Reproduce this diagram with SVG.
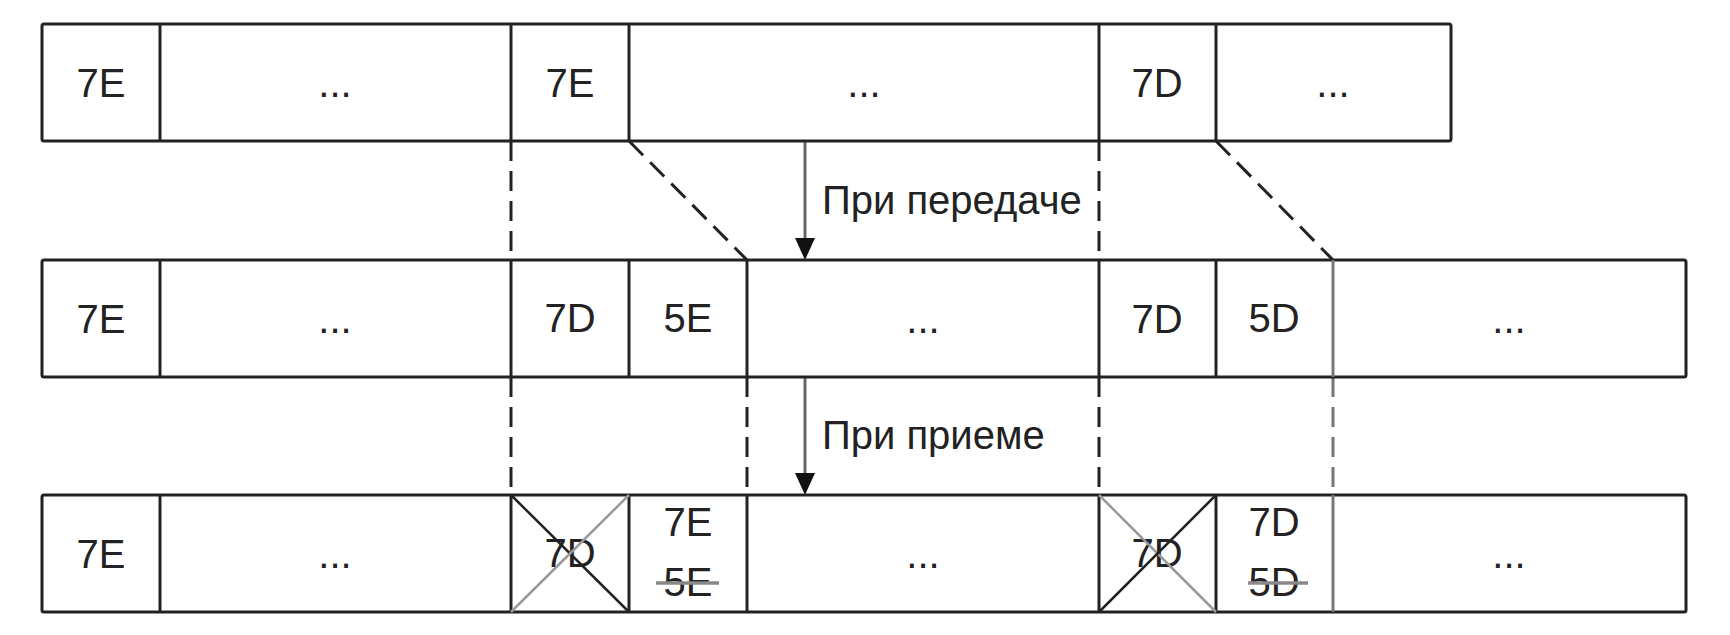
<svg xmlns="http://www.w3.org/2000/svg" width="1730" height="635" viewBox="0 0 1730 635">
<style>
.box{fill:#fff;stroke:#222;stroke-width:3}
.div{stroke:#222;stroke-width:3}
.gdiv{stroke:#777;stroke-width:3}
.t{font-family:"Liberation Sans",Arial,sans-serif;font-size:40px;fill:#222;text-anchor:middle}
.lbl{font-family:"Liberation Sans",Arial,sans-serif;font-size:40px;fill:#222}
.dash{stroke:#222;stroke-width:3;stroke-dasharray:20 10;fill:none}
.arr{stroke:#666;stroke-width:3;fill:none}
.xb{stroke:#222;stroke-width:2.5}
.xg{stroke:#999;stroke-width:2.5}
.strike{stroke:#888;stroke-width:3.5}
</style>
<defs>
<marker id="ah" markerUnits="userSpaceOnUse" markerWidth="20" markerHeight="24" refX="10" refY="22" orient="auto-start-reverse" viewBox="0 0 20 24">
<path d="M0,0 L20,0 L10,22 Z" fill="#111"/>
</marker>
</defs>
<rect width="1730" height="635" fill="#fff"/>

<g id="connectors">
<line class="dash" x1="511" y1="141" x2="511" y2="260"/>
<line class="dash" x1="1099" y1="141" x2="1099" y2="260"/>
<line class="dash" x1="629" y1="141" x2="747" y2="260"/>
<line class="dash" x1="1216" y1="141" x2="1333" y2="260"/>
<line class="dash" x1="511" y1="377" x2="511" y2="495"/>
<line class="dash" x1="747" y1="377" x2="747" y2="495"/>
<line class="dash" x1="1099" y1="377" x2="1099" y2="495"/>
<line class="dash" x1="1333" y1="377" x2="1333" y2="495" style="stroke:#777"/>
<line class="arr" x1="805" y1="141" x2="805" y2="238"/>
<path d="M795,238 L815,238 L805,260 Z" fill="#111"/>
<line class="arr" x1="805" y1="377" x2="805" y2="473"/>
<path d="M795,473 L815,473 L805,495 Z" fill="#111"/>
<text class="lbl" x="822" y="214">При передаче</text>
<text class="lbl" x="822" y="449">При приеме</text>
</g>

<g id="row1">
<rect class="box" x="42" y="24" width="1409" height="117" rx="2"/>
<line class="div" x1="160" y1="24" x2="160" y2="141"/>
<line class="div" x1="511" y1="24" x2="511" y2="141"/>
<line class="div" x1="629" y1="24" x2="629" y2="141"/>
<line class="div" x1="1099" y1="24" x2="1099" y2="141"/>
<line class="div" x1="1216" y1="24" x2="1216" y2="141"/>
<text class="t" x="101" y="97">7E</text>
<text class="t" x="335" y="97">...</text>
<text class="t" x="570" y="97">7E</text>
<text class="t" x="864" y="97">...</text>
<text class="t" x="1157" y="97">7D</text>
<text class="t" x="1333" y="97">...</text>
</g>

<g id="row2">
<rect class="box" x="42" y="260" width="1644" height="117" rx="2"/>
<line class="div" x1="160" y1="260" x2="160" y2="377"/>
<line class="div" x1="511" y1="260" x2="511" y2="377"/>
<line class="div" x1="629" y1="260" x2="629" y2="377"/>
<line class="div" x1="747" y1="260" x2="747" y2="377"/>
<line class="div" x1="1099" y1="260" x2="1099" y2="377"/>
<line class="div" x1="1216" y1="260" x2="1216" y2="377"/>
<line class="gdiv" x1="1333" y1="260" x2="1333" y2="377"/>
<text class="t" x="101" y="333">7E</text>
<text class="t" x="335" y="333">...</text>
<text class="t" x="570" y="332">7D</text>
<text class="t" x="688" y="332">5E</text>
<text class="t" x="923" y="333">...</text>
<text class="t" x="1157" y="333">7D</text>
<text class="t" x="1274" y="332">5D</text>
<text class="t" x="1509" y="333">...</text>
</g>

<g id="row3">
<rect class="box" x="42" y="495" width="1644" height="117" rx="2"/>
<line class="div" x1="160" y1="495" x2="160" y2="612"/>
<line class="div" x1="511" y1="495" x2="511" y2="612"/>
<line class="div" x1="629" y1="495" x2="629" y2="612"/>
<line class="div" x1="747" y1="495" x2="747" y2="612"/>
<line class="div" x1="1099" y1="495" x2="1099" y2="612"/>
<line class="div" x1="1216" y1="495" x2="1216" y2="612"/>
<line class="gdiv" x1="1333" y1="495" x2="1333" y2="612"/>
<text class="t" x="101" y="568">7E</text>
<text class="t" x="335" y="568">...</text>
<text class="t" x="570" y="567">7D</text>
<line class="xb" x1="511" y1="495" x2="629" y2="612"/>
<line class="xg" x1="629" y1="495" x2="511" y2="612"/>
<text class="t" x="688" y="536">7E</text>
<text class="t" x="688" y="596">5E</text>
<line class="strike" x1="656" y1="583" x2="719" y2="583"/>
<text class="t" x="923" y="568">...</text>
<text class="t" x="1157" y="567">7D</text>
<line class="xg" x1="1099" y1="495" x2="1216" y2="612"/>
<line class="xb" x1="1216" y1="495" x2="1099" y2="612"/>
<text class="t" x="1274" y="536">7D</text>
<text class="t" x="1274" y="596">5D</text>
<line class="strike" x1="1248" y1="583" x2="1308" y2="583"/>
<text class="t" x="1509" y="568">...</text>
</g>
</svg>
